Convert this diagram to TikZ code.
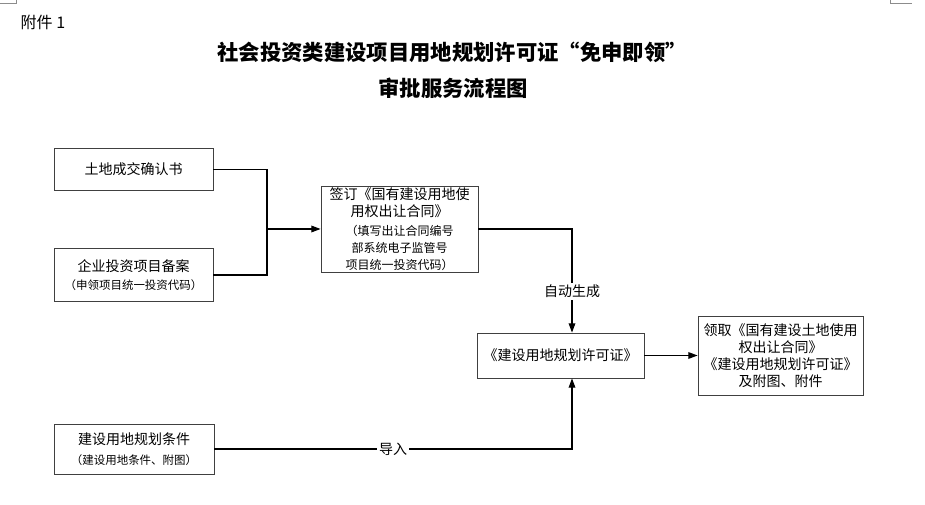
\documentclass[tikz,border=0pt]{standalone}
\usepackage{fontspec}
\setmainfont{Noto Sans CJK SC}
\usetikzlibrary{arrows.meta}
\newcommand{\subtxt}{\fontsize{8.6}{11.5}\selectfont}
\newcommand{\subC}{\fontsize{9}{11.6}\selectfont}

\begin{document}
\begin{tikzpicture}[
		x=0.75pt,y=-0.75pt,
		box/.style={draw=black!75,line width=0.6pt,inner sep=1pt,align=center,
			font=\fontsize{10.5}{12.75}\selectfont},
		flow/.style={line width=0.9pt},
		arr/.style={flow,-{Triangle[length=7pt,width=5pt]}},
		lbl/.style={fill=white,inner sep=1.5pt,font=\fontsize{10.5}{12.75}\selectfont},
		cornermark/.style={draw=black!45,line width=0.4pt}
		]
		\useasboundingbox (0,0) rectangle (925,505);
		% page corners
		\draw[cornermark] (0,3) -- (16,3) -- (16,0);
		\draw[cornermark] (890,0) -- (890,3.3) -- (912,3.3);
		% headings
		\node[anchor=west,font=\fontsize{12}{14}\selectfont] (annex) at (16,22) {附件 1};
		\node[font=\fontsize{16}{19}\selectfont\bfseries] (title1) at (452,52)
		{社会投资类建设项目用地规划许可证“免申即领”};
		\node[font=\fontsize{16}{19}\selectfont\bfseries] (title2) at (453,88)
		{审批服务流程图};
		% boxes
		\node[box,minimum width=119.25pt,minimum height=31.5pt] (deal) at (133.5,169.5)
		{土地成交确认书};
		\node[box,minimum width=119.25pt,minimum height=39.75pt] (filing) at (133.5,275)
		{企业投资项目备案\\[1pt]\subtxt（申领项目统一投资代码）};
		\node[box,minimum width=117.75pt,minimum height=64.5pt] (contract) at (399.5,229)
		{签订《国有建设用地使\\用权出让合同》\\[1pt]
			\subC（填写出让合同编号\\\subC 部系统电子监管号\\\subC 项目统一投资代码）};
		\node[box,minimum width=125.25pt,minimum height=33.75pt] (permit) at (560.5,355.5)
		{《建设用地规划许可证》};
		\node[box,minimum width=123.75pt,minimum height=59.25pt] (collect) at (780.5,355.5)
		{领取《国有建设土地使用\\权出让合同》\\《建设用地规划许可证》\\及附图、附件};
		\node[box,minimum width=120pt,minimum height=37.5pt] (cond) at (134,449)
		{建设用地规划条件\\[2pt]\subtxt（建设用地条件、附图）};
		% connectors
		\coordinate (join) at (267,229);
		\coordinate (turn) at (572,0);
		\draw[flow] (deal.east) -- (join |- deal.east) -- (join |- filing.east) -- (filing.east);
		\draw[arr] (join) -- (contract.west);
		\draw[arr] (contract.east) -| node[lbl,pos=0.8] {自动生成} (turn |- permit.north);
		\draw[arr] (cond.east) -| node[lbl,pos=0.25] {导入} (turn |- permit.south);
		\draw[arr] (permit.east) -- (collect.west);
	\end{tikzpicture}
\end{document}
